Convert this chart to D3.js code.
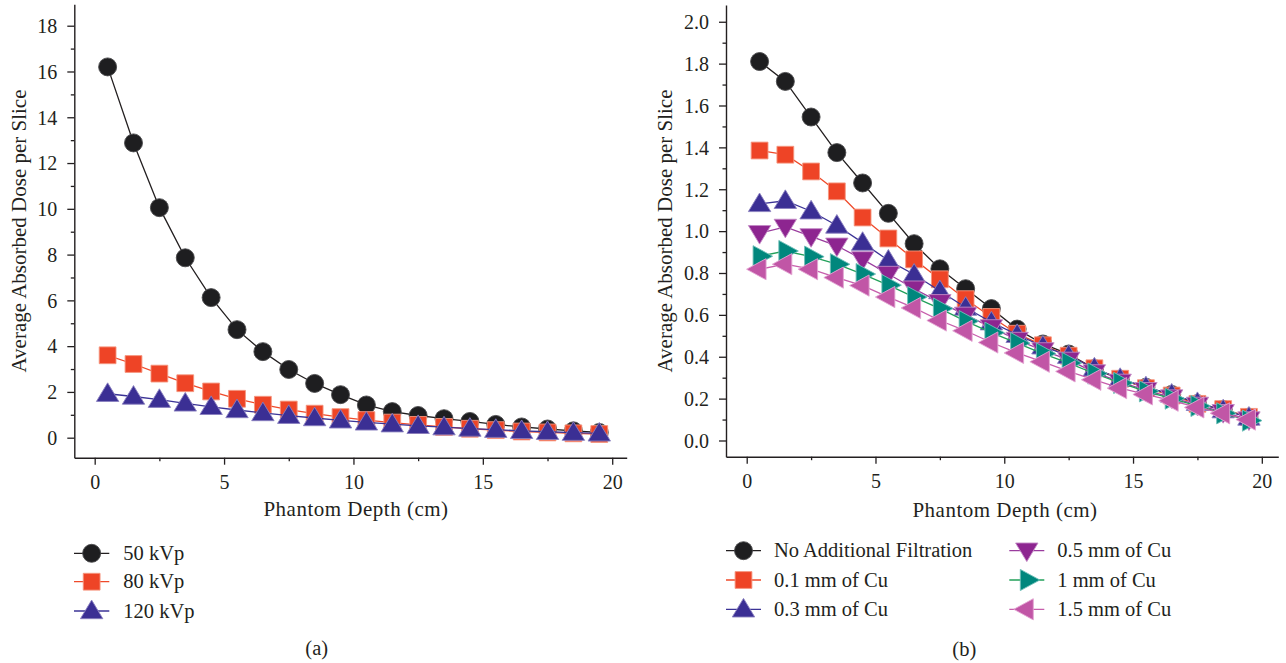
<!DOCTYPE html>
<html>
<head>
<meta charset="utf-8">
<script src="https://cdn.jsdelivr.net/npm/d3@7"></script>
<style>
  body { margin: 0; background: #fff; }
  svg, svg text { font-family: "Liberation Serif", "Times New Roman", serif !important; }
</style>
</head>
<body>
<svg id="chart" width="1286" height="663"></svg>
<script>
// Phantom depth of each slice (cm)
const depthCm = [0.5, 1.5, 2.5, 3.5, 4.5, 5.5, 6.5, 7.5, 8.5, 9.5,
                 10.5, 11.5, 12.5, 13.5, 14.5, 15.5, 16.5, 17.5, 18.5, 19.5];

// Panel (a): tube voltage
const kvp50  = [16.2, 12.88, 10.05, 7.86, 6.12, 4.72, 3.76, 2.98, 2.37, 1.88,
                1.43, 1.14, 0.97, 0.83, 0.71, 0.58, 0.47, 0.38, 0.3, 0.23];
const kvp80  = [3.6, 3.22, 2.8, 2.38, 2.02, 1.7, 1.44, 1.23, 1.05, 0.9,
                0.77, 0.66, 0.56, 0.47, 0.39, 0.33, 0.27, 0.23, 0.19, 0.16];
const kvp120 = [1.92, 1.8, 1.66, 1.5, 1.35, 1.21, 1.08, 0.96, 0.86, 0.76,
                0.67, 0.59, 0.52, 0.46, 0.4, 0.35, 0.3, 0.26, 0.22, 0.19];

// Panel (b): added copper filtration
const noFiltration = [1.81, 1.715, 1.545, 1.375, 1.23, 1.085, 0.94, 0.82, 0.725, 0.63,
                      0.532, 0.461, 0.413, 0.343, 0.292, 0.254, 0.22, 0.176, 0.148, 0.112];
const cu01 = [1.385, 1.365, 1.285, 1.19, 1.065, 0.965, 0.865, 0.77, 0.675, 0.59,
              0.51, 0.455, 0.405, 0.345, 0.295, 0.25, 0.215, 0.175, 0.15, 0.113];
const cu03 = [1.13, 1.145, 1.095, 1.027, 0.945, 0.86, 0.793, 0.714, 0.635, 0.565,
              0.505, 0.45, 0.405, 0.345, 0.295, 0.255, 0.22, 0.18, 0.145, 0.11];
const cu05 = [0.99, 1.02, 0.975, 0.93, 0.865, 0.795, 0.725, 0.66, 0.6, 0.54,
              0.48, 0.43, 0.385, 0.325, 0.28, 0.24, 0.205, 0.17, 0.135, 0.1];
const cu10 = [0.88, 0.905, 0.878, 0.842, 0.795, 0.742, 0.685, 0.63, 0.57, 0.515,
              0.465, 0.415, 0.37, 0.32, 0.275, 0.235, 0.2, 0.165, 0.13, 0.095];
const cu15 = [0.818, 0.842, 0.818, 0.778, 0.74, 0.685, 0.633, 0.573, 0.524, 0.468,
              0.418, 0.376, 0.33, 0.29, 0.25, 0.22, 0.19, 0.158, 0.13, 0.1];

const legendA = ["50 kVp", "80 kVp", "120 kVp"];
const legendB = ["No Additional Filtration", "0.1 mm of Cu", "0.3 mm of Cu",
                 "0.5 mm of Cu", "1 mm of Cu", "1.5 mm of Cu"];

const xTickValues   = [0, 5, 10, 15, 20];
const xMinorValues  = [2.5, 7.5, 12.5, 17.5];
const yTicksA       = [0, 2, 4, 6, 8, 10, 12, 14, 16, 18];
const yMinorA       = [1, 3, 5, 7, 9, 11, 13, 15, 17];
const yTicksB       = [0, 0.2, 0.4, 0.6, 0.8, 1.0, 1.2, 1.4, 1.6, 1.8, 2.0];
const yMinorB       = [0.1, 0.3, 0.5, 0.7, 0.9, 1.1, 1.3, 1.5, 1.7, 1.9];

const xTitle = "Phantom Depth (cm)";
const yTitle = "Average Absorbed Dose per Slice";

const INK = "#231f20";
const SERIF = '"Liberation Serif", "Times New Roman", serif';
const svg = d3.select("#chart");

// marker shapes, centred on the data point
function markerPath(shape) {
  switch (shape) {
    case "circle": {
      const r = 9;
      return `M${-r},0A${r},${r} 0 1,0 ${r},0A${r},${r} 0 1,0 ${-r},0Z`;
    }
    case "square": {
      const s = 8.4;
      return `M${-s},${-s}H${s}V${s}H${-s}Z`;
    }
    case "up": {
      const w = 11.2, h = 18.6, d = 1.6;
      return `M0,${-h / 2 - d}L${w},${h / 2 - d}L${-w},${h / 2 - d}Z`;
    }
    case "down": {
      const w = 11.2, h = 18.6, d = 1.6;
      return `M0,${h / 2 + d}L${w},${-h / 2 + d}L${-w},${-h / 2 + d}Z`;
    }
    case "right": {
      const w = 19.5, h = 10.6;
      return `M${-w / 3},${-h}L${2 * w / 3},0L${-w / 3},${h}Z`;
    }
    case "left": {
      const w = 19.5, h = 10.6;
      return `M${w / 3},${-h}L${-2 * w / 3},0L${w / 3},${h}Z`;
    }
  }
}

function label(sel, size) {
  return sel.style("font-family", SERIF).style("font-size", size + "px").attr("fill", INK);
}

function drawPanel(cfg) {
  const g = svg.append("g");
  const x = d3.scaleLinear().domain(cfg.xDomain).range(cfg.xRange);
  const y = d3.scaleLinear().domain(cfg.yDomain).range(cfg.yRange);
  const x0 = cfg.xRange[0], y0 = cfg.yRange[0];

  // minor ticks
  g.append("g").attr("transform", `translate(0,${y0})`)
    .call(d3.axisBottom(x).tickValues(xMinorValues).tickSize(3.5).tickFormat(""))
    .call(a => a.select(".domain").remove());
  g.append("g").attr("transform", `translate(${x0},0)`)
    .call(d3.axisLeft(y).tickValues(cfg.yMinor).tickSize(3.5).tickFormat(""))
    .call(a => a.select(".domain").remove());

  // major axes
  const xa = g.append("g").attr("transform", `translate(0,${y0})`)
    .call(d3.axisBottom(x).tickValues(xTickValues).tickSize(7).tickSizeOuter(0)
      .tickPadding(12).tickFormat(d3.format("d")));
  const ya = g.append("g").attr("transform", `translate(${x0},0)`)
    .call(d3.axisLeft(y).tickValues(cfg.yTicks).tickSize(7).tickSizeOuter(0)
      .tickPadding(10).tickFormat(cfg.yFormat));

  g.selectAll("g").attr("font-family", null).attr("font-size", null);
  g.selectAll(".tick line").attr("stroke", INK).attr("stroke-width", 1.3);
  g.selectAll(".domain").attr("stroke", INK).attr("stroke-width", 1.4);
  label(g.selectAll(".tick text"), 20);
  xa.selectAll(".tick text").attr("dy", 0).attr("y", 31);
  ya.selectAll(".tick text").attr("dy", "0.34em");

  // axis titles
  label(g.append("text"), 21)
    .attr("x", cfg.xTitlePos[0]).attr("y", cfg.xTitlePos[1])
    .attr("text-anchor", "middle").attr("letter-spacing", 0.5)
    .text(xTitle);
  label(g.append("text"), 21)
    .attr("transform", `translate(${cfg.yTitlePos[0]},${cfg.yTitlePos[1]}) rotate(-90)`)
    .attr("text-anchor", "middle").attr("dy", "0.35em")
    .text(yTitle);

  // series: line, then its markers
  const line = d3.line().x((d, i) => x(depthCm[i])).y(d => y(d));
  cfg.series.forEach(s => {
    const sg = g.append("g");
    sg.append("path").datum(s.values).attr("d", line)
      .attr("fill", "none").attr("stroke", s.line).attr("stroke-width", 1.3);
    sg.selectAll("path.mk").data(s.values).join("path").attr("class", "mk")
      .attr("transform", (d, i) => `translate(${x(depthCm[i])},${y(d)})`)
      .attr("d", markerPath(s.shape))
      .attr("fill", s.fill).attr("stroke", s.edge).attr("stroke-width", 0.9);
  });

  // legend
  cfg.series.forEach((s, i) => {
    const p = cfg.legendPos[i];
    const lg = g.append("g").attr("transform", `translate(${p[0]},${p[1]})`);
    lg.append("line").attr("x1", 0).attr("x2", cfg.legendLine).attr("y1", 0).attr("y2", 0)
      .attr("stroke", s.line).attr("stroke-width", 1.3);
    lg.append("path").attr("transform", `translate(${cfg.legendLine / 2},0)`)
      .attr("d", markerPath(s.shape)).attr("fill", s.fill)
      .attr("stroke", s.edge).attr("stroke-width", 0.9);
    label(lg.append("text"), 20.5).attr("x", cfg.legendText).attr("dy", "0.33em")
      .text(s.name);
  });

  // panel caption
  label(g.append("text"), 20.5).attr("x", cfg.caption[0]).attr("y", cfg.caption[1])
    .attr("text-anchor", "middle").attr("dy", "0.33em")
    .text(cfg.captionText);
}

drawPanel({
  xDomain: [-0.788, 20.56], xRange: [74.3, 626.7],
  yDomain: [-0.874, 18.94], yRange: [457.7, 4.2],
  yTicks: yTicksA, yMinor: yMinorA, yFormat: d3.format("d"),
  xTitlePos: [356, 516], yTitlePos: [19, 231],
  series: [
    { name: legendA[0], values: kvp50,  shape: "circle", fill: "#1e1e20", edge: "#4a4a4c", line: INK },
    { name: legendA[1], values: kvp80,  shape: "square", fill: "#ee4426", edge: "#f5957e", line: "#ef4a2a" },
    { name: legendA[2], values: kvp120, shape: "up",     fill: "#3b2f94", edge: "#8a80c0", line: "#3b3396" }
  ],
  legendPos: [[74, 553.3], [74, 581.7], [74, 611]],
  legendLine: 35.3, legendText: 49.3,
  caption: [316.7, 648.3], captionText: "(a)"
});

drawPanel({
  xDomain: [-0.804, 20.64], xRange: [726, 1278.3],
  yDomain: [-0.0774, 2.08], yRange: [456.7, 5],
  yTicks: yTicksB, yMinor: yMinorB, yFormat: d3.format(".1f"),
  xTitlePos: [1005, 517], yTitlePos: [665, 231],
  series: [
    { name: legendB[0], values: noFiltration, shape: "circle", fill: "#1e1e20", edge: "#4a4a4c", line: INK },
    { name: legendB[1], values: cu01, shape: "square", fill: "#ee4426", edge: "#f5957e", line: "#ef4a2a" },
    { name: legendB[2], values: cu03, shape: "up",     fill: "#3b2f94", edge: "#8a80c0", line: "#3b3396" },
    { name: legendB[3], values: cu05, shape: "down",   fill: "#8d2590", edge: "#c389c5", line: "#9a3c9e" },
    { name: legendB[4], values: cu10, shape: "right",  fill: "#00877d", edge: "#6fc0b8", line: "#22a05a" },
    { name: legendB[5], values: cu15, shape: "left",   fill: "#c156a6", edge: "#e3a5d2", line: "#c75eac" }
  ],
  legendPos: [[726, 550.7], [726, 580], [726, 609.3], [1009.3, 550.7], [1009.3, 580], [1009.3, 609.3]],
  legendLine: 35, legendText: 48,
  caption: [964.3, 649], captionText: "(b)"
});
</script>
</body>
</html>
